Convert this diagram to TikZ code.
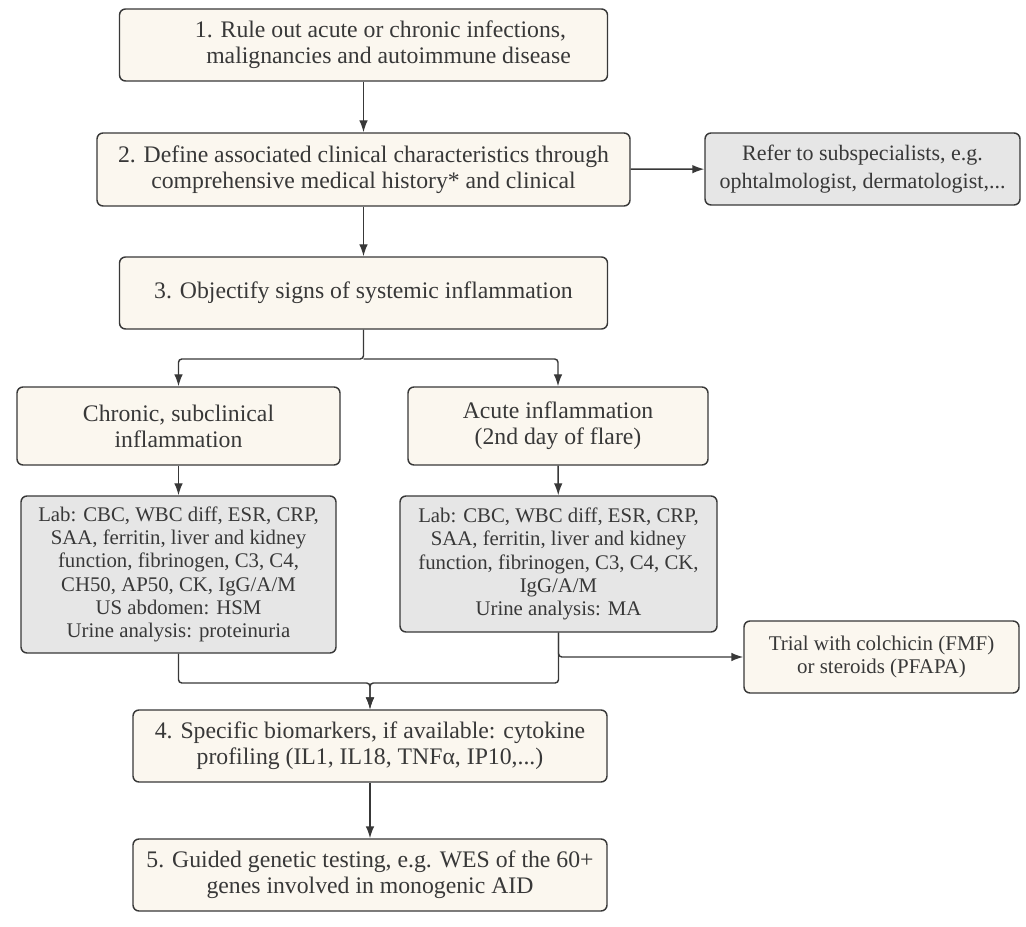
\documentclass[tikz,border=0pt]{standalone}
\usepackage{fontspec}
\setmainfont{Liberation Serif}
\usetikzlibrary{arrows.meta}
\definecolor{cream}{HTML}{FBF7EF}
\definecolor{labgray}{HTML}{E6E6E6}
\definecolor{ink}{HTML}{383838}
\begin{document}
\begin{tikzpicture}
			[x=0.75pt,y=-0.75pt,
			stepbox/.style={rectangle,rounded corners=4.5pt,draw=ink,line width=1.1pt,fill=cream,align=center,inner sep=0pt,text=ink,font=\fontsize{17.8}{19.5}\selectfont},
			labbox/.style={stepbox,fill=labgray,font=\fontsize{15.6}{17.5}\selectfont},
			referbox/.style={stepbox,fill=labgray,font=\fontsize{16.5}{21}\selectfont},
			sidebox/.style={stepbox,font=\fontsize{15.7}{17.8}\selectfont},
			link/.style={-{Latex[length=9pt,width=6.5pt]},line width=1.1pt,draw=ink,rounded corners=2.5pt}]
			\useasboundingbox (0,0) rectangle (1026,927);
			\node[stepbox,name=s1,minimum width=366pt,minimum height=54pt] at (363.5,45) {\hspace*{25.5pt}1. Rule out acute or chronic infections,\\ \hspace*{37.5pt}malignancies and autoimmune disease};
			\node[stepbox,name=s2,minimum width=399.75pt,minimum height=54.75pt] at (363.5,169.5) {2. Define associated clinical characteristics through\\comprehensive medical history* and clinical};
			\node[referbox,name=refer,minimum width=236.25pt,minimum height=54pt] at (862.5,169) {Refer to subspecialists, e.g.\\ophtalmologist, dermatologist,...};
			\node[stepbox,name=s3,minimum width=366pt,minimum height=54pt] at (363.5,293) {3. Objectify signs of systemic inflammation};
			\node[stepbox,name=chronic,minimum width=242.25pt,minimum height=58.5pt] at (178.5,426) {Chronic, subclinical\\inflammation};
			\node[stepbox,name=acute,minimum width=225pt,minimum height=58.5pt] at (558,426) {Acute inflammation\\(2nd day of flare)};
			\node[labbox,name=lab1,minimum width=236.25pt,minimum height=117.75pt] at (178.5,574.5) {Lab: CBC, WBC diff, ESR, CRP,\\SAA, ferritin, liver and kidney\\function, fibrinogen, C3, C4,\\CH50, AP50, CK, IgG/A/M\\US abdomen: HSM\\Urine analysis: proteinuria};
			\node[labbox,name=lab2,minimum width=237.75pt,minimum height=102pt] at (558.5,564) {Lab: CBC, WBC diff, ESR, CRP,\\SAA, ferritin, liver and kidney\\function, fibrinogen, C3, C4, CK,\\IgG/A/M\\Urine analysis: MA};
			\node[sidebox,name=trial,minimum width=206.25pt,minimum height=54pt] at (881.5,657) {Trial with colchicin (FMF)\\or steroids (PFAPA)};
			\node[stepbox,name=s4,minimum width=355.5pt,minimum height=54pt] at (370,746) {4. Specific biomarkers, if available: cytokine\\profiling (IL1, IL18, TNFα, IP10,...)};
			\node[stepbox,name=s5,minimum width=355.5pt,minimum height=54pt] at (370,875) {5. Guided genetic testing, e.g. WES of the 60+\\genes involved in monogenic AID};
			\coordinate (fork) at (363.5,359);
			\coordinate (merge) at (370,683);
			\draw[link](s1)--(s2);
			\draw[link](s2)--(s3);
			\draw[link](s2)--(refer);
			\draw[link](s3.south)--(fork)-|(chronic.north);
			\draw[link](fork)-|(acute.north);
			\draw[link](chronic)--(lab1);
			\draw[link](acute)--(lab2);
			\draw[link](lab1.south)|-(merge)--(s4.north);
			\draw[link](lab2.south)|-(merge)--(s4.north);
			\draw[link](lab2.south)|-(trial.west);
			\draw[link](s4)--(s5);
		\end{tikzpicture}
\end{document}
